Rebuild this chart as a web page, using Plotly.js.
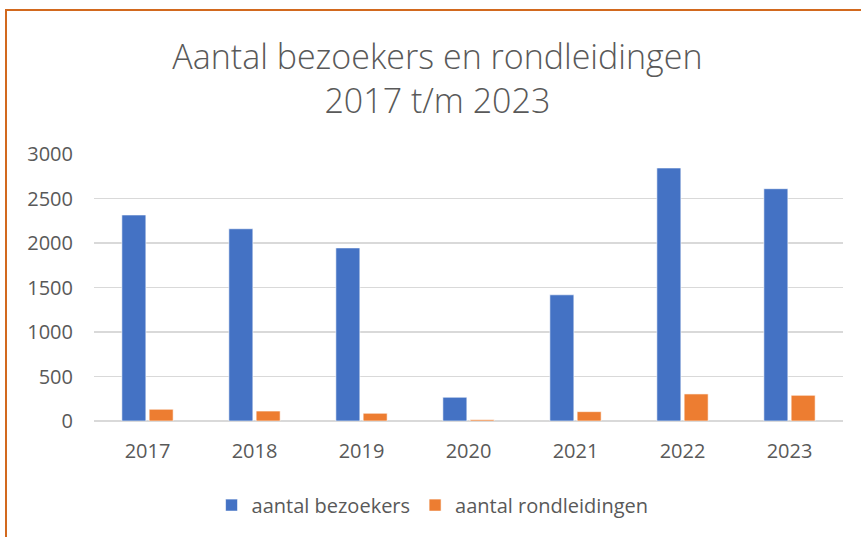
<!DOCTYPE html>
<html>
<head>
<meta charset="utf-8">
<script src="https://cdn.plot.ly/plotly-3.0.1.min.js"></script>
<style>
    html, body { margin: 0; padding: 0; background: #fff; }
    #wrap { position: relative; width: 861px; height: 537px; overflow: hidden; }
    #frame {
        position: absolute; left: 5px; top: 9px; width: 900px; height: 600px;
        border-left: 2px solid #D2691E; border-top: 2px solid #D2691E;
        pointer-events: none;
    }
    #chart { position: absolute; left: 0; top: 0; width: 861px; height: 537px; }
</style>
</head>
<body>
<div id="wrap">
    <div id="chart"></div>
    <div id="frame"></div>
</div>
<script>
    const years = ['2017', '2018', '2019', '2020', '2021', '2022', '2023'];
    const bezoekers = [2315, 2160, 1945, 267, 1418, 2843, 2610];
    const rondleidingen = [132, 112, 87, 15, 105, 304, 289];

    const textColor = '#595959';
    const fontFamily = '"Open Sans", "Liberation Sans", sans-serif';

    let data = [
        {
            x: years,
            y: bezoekers,
            type: 'bar',
            name: 'aantal bezoekers',
            marker: {
                color: '#4472C4',
                line: { color: 'rgba(255,255,255,0.6)', width: 1 }
            },
            hoverinfo: 'y'
        },
        {
            x: years,
            y: rondleidingen,
            type: 'bar',
            name: 'aantal rondleidingen',
            marker: {
                color: '#ED7D31',
                line: { color: 'rgba(255,255,255,0.6)', width: 1 }
            },
            hoverinfo: 'y'
        }
    ];

    let layout = {
        width: 861,
        height: 537,
        margin: { l: 94, r: 18, t: 154, b: 116 },
        paper_bgcolor: 'rgba(0,0,0,0)',
        plot_bgcolor: '#fff',
        barmode: 'group',
        bargap: 0.49,
        bargroupgap: 0.12,
        title: {
            text: 'Aantal bezoekers en rondleidingen<br>2017 t/m 2023',
            font: { family: fontFamily, size: 34, color: textColor, weight: 300 },
            x: 0.508,
            xanchor: 'center',
            y: 0.872,
            yanchor: 'middle'
        },
        font: { family: fontFamily, color: textColor, size: 20 },
        xaxis: {
            type: 'category',
            showgrid: false,
            showline: false,
            ticks: '',
            ticklabelstandoff: 16,
            tickfont: { size: 20, color: textColor },
            zeroline: false
        },
        yaxis: {
            range: [0, 3000],
            dtick: 500,
            gridcolor: '#D9D9D9',
            gridwidth: 1.5,
            zeroline: true,
            zerolinecolor: '#D9D9D9',
            zerolinewidth: 1.5,
            ticks: '',
            ticklabelstandoff: 20,
            tickfont: { size: 20, color: textColor },
            fixedrange: true
        },
        showlegend: true,
        legend: {
            orientation: 'h',
            x: 0.452,
            xanchor: 'center',
            y: -0.315,
            yanchor: 'middle',
            font: { size: 20, color: textColor },
            itemwidth: 30,
            tracegroupgap: 0
        }
    };

    Plotly.newPlot('chart', data, layout, { displayModeBar: false, staticPlot: true });
</script>
</body>
</html>
